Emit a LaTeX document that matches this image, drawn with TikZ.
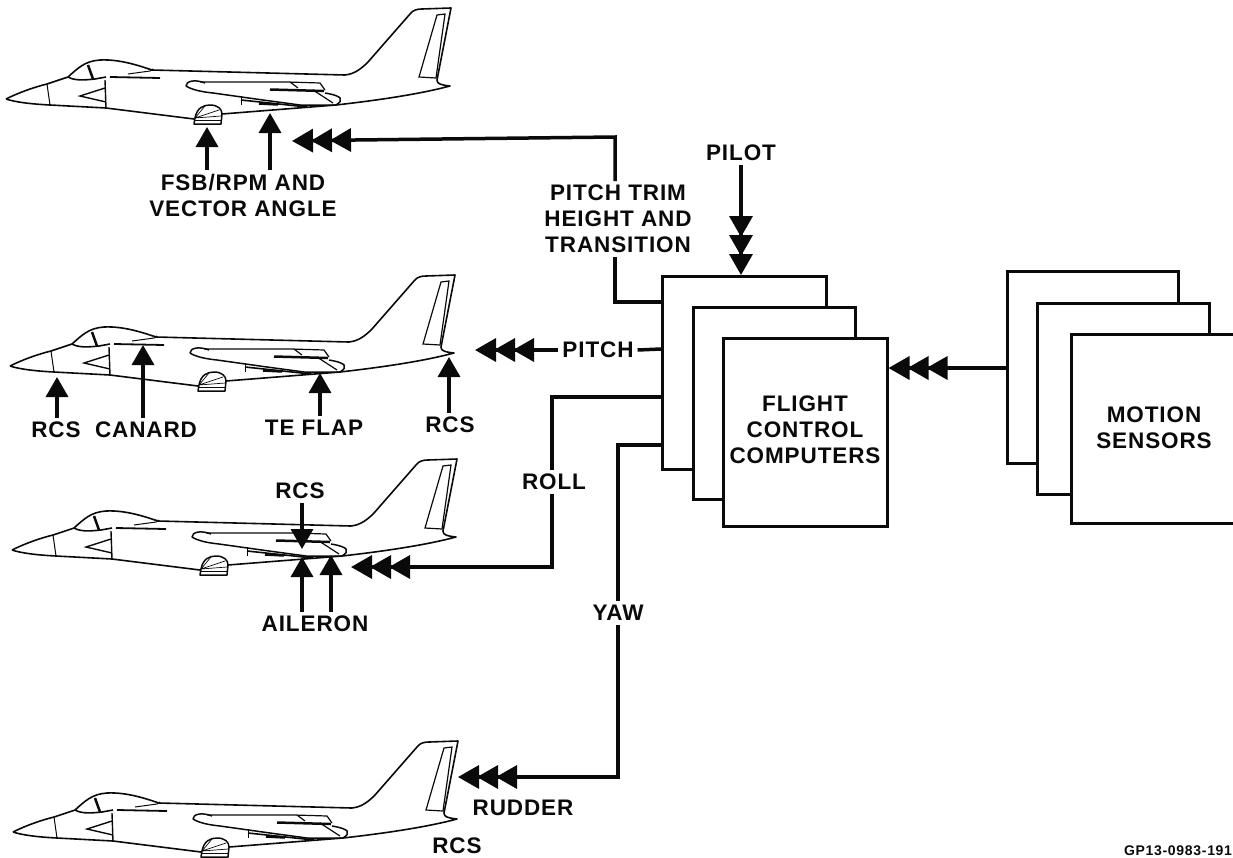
\documentclass[tikz,border=0pt]{standalone}
\usepackage{fontspec}
\setmainfont[LetterSpace=4]{Liberation Sans}
\usepackage{xcolor}
\usepackage{tikz}
\usetikzlibrary{arrows.meta}
\definecolor{figink}{RGB}{10,10,10}
\tikzstyle{arrow} = [-{Triangle[length=20pt,width=22pt]}, line width=3.5pt, draw=figink]
\tikzstyle{arrowthree} = [-{Triangle[length=21pt,width=23pt,sep=-2pt]Triangle[length=21pt,width=23pt,sep=-2pt]Triangle[length=21pt,width=23pt]}, line width=3.5pt, draw=figink]
\tikzstyle{link} = [line width=3.5pt, draw=figink]
\tikzstyle{box} = [draw=figink, line width=2.5pt, fill=white, inner sep=0pt, anchor=north west]
\tikzstyle{lbl} = [font=\fontsize{22.5}{26}\selectfont\bfseries, text=figink, align=center, inner sep=0pt, outer sep=4pt]
\tikzset{
    pics/jet/.style={code={
        \draw[figink, line width=1.6pt, line join=round]
            (6,99) .. controls (20,92) and (35,87) .. (47,84) -- (68,77)
            .. controls (78,68) and (85,61) .. (100,60)
            .. controls (120,59) and (140,66) .. (152,70)
            -- (345,75) .. controls (355,74) and (362,68) .. (368,62)
            -- (410,14) .. controls (413,10) and (417,9) .. (422,9)
            -- (451,8) -- (437,80) .. controls (437,84) and (441,85) .. (450,86)
            .. controls (420,94) and (380,100) .. (336,105) -- (222,114);
        \draw[figink, line width=1.6pt]
            (194,119) -- (106,108) -- (50,105) .. controls (30,104) and (15,102) .. (6,99);
        % nose, intake and fin details
        \draw[figink, line width=1pt] (47,84) -- (50,105);
        \draw[figink, line width=1.4pt] (105,80) -- (106,108) (105,88) -- (80,96) -- (106,102);
        \draw[figink, line width=1.2pt] (419,77) -- (437,15) -- (445,14) -- (436,78) -- cycle;
        % canopy
        \draw[figink, line width=1.6pt] (68,77) .. controls (75,81) and (85,80) .. (95,79) -- (106,77);
        \draw[figink, line width=2.5pt] (88,65) -- (93,79);
        % canard
        \draw[figink, line width=1.8pt] (110,77) -- (160,78);
        \draw[figink, line width=1pt] (128,74) -- (150,71) -- (153,69);
        % wing
        \draw[figink, line width=1.5pt, line join=round]
            (205,83) .. controls (195,79) and (186,81) .. (186,86)
            .. controls (192,90) and (203,92) .. (213,93)
            -- (263,100) -- (300,105) -- (336,105)
            .. controls (344,100) and (343,96) .. (325,93);
        \draw[figink, line width=1.2pt] (200,82) -- (288,82) -- (320,83) -- (325,90)
            (290,82) -- (298,88) (313,90) -- (333,103);
        \draw[figink, line width=2.5pt] (270,89.5) -- (324,91);
        \draw[figink, line width=1.6pt] (241,100) -- (307,107);
        \draw[figink, line width=2.5pt] (259,103.5) -- (278,104.5);
        \draw[figink, line width=1pt] (241,96) -- (241,105);
        % fan nozzle
        \draw[figink, line width=1.5pt, line join=round]
            (195,118) .. controls (197,108) and (203,105) .. (210,105)
            .. controls (218,105) and (222,109) .. (222,114)
            -- (221,124) -- (194,124) -- cycle;
        \draw[figink, line width=0.7pt] (195,118) -- (205,106) (195,118) -- (219,110)
            (195,118) -- (221,116);
        \draw[figink, line width=1.2pt] (195,120.5) -- (221,120.5);
    }}
}
\begin{document}
\begin{tikzpicture}[x=1pt,y=-1pt]
    \useasboundingbox (0,0) rectangle (1233,857);
    \clip (0,0) rectangle (1233,857);
    \pic (jettrim) at (0,0) {jet};
    \pic (jetpitch) at (4,267) {jet};
    \pic (jetroll) at (6,451) {jet};
    \pic (jetyaw) at (7,733) {jet};

    \node[box, minimum width=164pt, minimum height=193pt] (fcca) at (661,275) {};
    \node[box, minimum width=162pt, minimum height=192pt] (fccb) at (692,306) {};
    \node[box, minimum width=164pt, minimum height=188pt] (fccc) at (722,337) {};
    \node[box, minimum width=171pt, minimum height=192pt] (sensa) at (1006,270) {};
    \node[box, minimum width=172pt, minimum height=191pt] (sensb) at (1036,302) {};
    \node[box, minimum width=190pt, minimum height=189pt] (sensc) at (1070,333) {};

    \node[lbl] (fcclbl) at (805,430) {FLIGHT\\CONTROL\\COMPUTERS};
    \node[lbl] (senslbl) at (1154,428) {MOTION\\SENSORS};
    \node[lbl] (pilot) at (741,153) {PILOT};
    \node[lbl] (trim) at (618,219) {PITCH TRIM\\HEIGHT AND\\TRANSITION};
    \node[lbl] (pitch) at (598,350) {PITCH};
    \node[lbl] (roll) at (554,482) {ROLL};
    \node[lbl] (yaw) at (618,613) {YAW};
    \node[lbl] (fsb) at (243,195) {FSB/RPM AND\\VECTOR ANGLE};
    \node[lbl] (rcsnose) at (56,430) {RCS};
    \node[lbl] (canard) at (146,430) {CANARD};
    \node[lbl] (teflap) at (314,428) {TE FLAP};
    \node[lbl] (rcstail) at (450,425) {RCS};
    \node[lbl] (rcswing) at (300,491) {RCS};
    \node[lbl] (aileron) at (315,624) {AILERON};
    \node[lbl] (rudder) at (523,808) {RUDDER};
    \node[lbl] (rcsyaw) at (457,846) {RCS};
    \node[font=\fontsize{14}{16}\selectfont\bfseries\addfontfeature{LetterSpace=5}, text=figink, inner sep=0pt] (gpno) at (1178,851) {GP13-0983-191};

    % ends of the arrows at the jets
    \coordinate (tiptrim) at (292,141);
    \coordinate (tippitch) at (475,350);
    \coordinate (tiproll) at (351,567);
    \coordinate (tipyaw) at (458,777);
    \coordinate (fsba) at (207,127);
    \coordinate (fsbb) at (270,113);
    \coordinate (rcsa) at (57,377);
    \coordinate (canarda) at (143,345);
    \coordinate (flapa) at (320,373);
    \coordinate (rcsb) at (449,357);
    \coordinate (rcsc) at (302,549);
    \coordinate (ailera) at (302,557);
    \coordinate (ailerb) at (331,555);

    % control paths
    \draw[link] (fcca.west |- 0,302) -| (trim.south -| 615,0);
    \draw[arrowthree] (trim.north -| 615,0) -- (615,137) -- (355,140) -- (tiptrim);
    \draw[link] (fcca.west |- 0,349) -- (pitch.east);
    \draw[arrowthree] (pitch.west) -- (tippitch);
    \draw[link] (fcca.west |- 0,397) -| (roll.north -| 552,0);
    \draw[arrowthree] (roll.south -| 552,0) |- (tiproll);
    \draw[link] (fcca.west |- 0,445) -| (yaw.north);
    \draw[arrowthree] (yaw.south) |- (tipyaw);
    \draw[arrowthree] (pilot.south) -- (pilot.south |- fcca.north);
    \draw[arrowthree] (sensa.west |- 0,368) -- (fccc.east |- 0,368);

    % surface arrows
    \draw[arrow] (fsb.north -| fsba) -- (fsba);
    \draw[arrow] (fsb.north -| fsbb) -- (fsbb);
    \draw[arrow] (rcsnose.north -| rcsa) -- (rcsa);
    \draw[arrow] (canard.north -| canarda) -- (canarda);
    \draw[arrow] (teflap.north -| flapa) -- (flapa);
    \draw[arrow] (rcstail.north -| rcsb) -- (rcsb);
    \draw[arrow] (rcswing.south -| rcsc) -- (rcsc);
    \draw[arrow] (aileron.north -| ailera) -- (ailera);
    \draw[arrow] (aileron.north -| ailerb) -- (ailerb);
\end{tikzpicture}
\end{document}
